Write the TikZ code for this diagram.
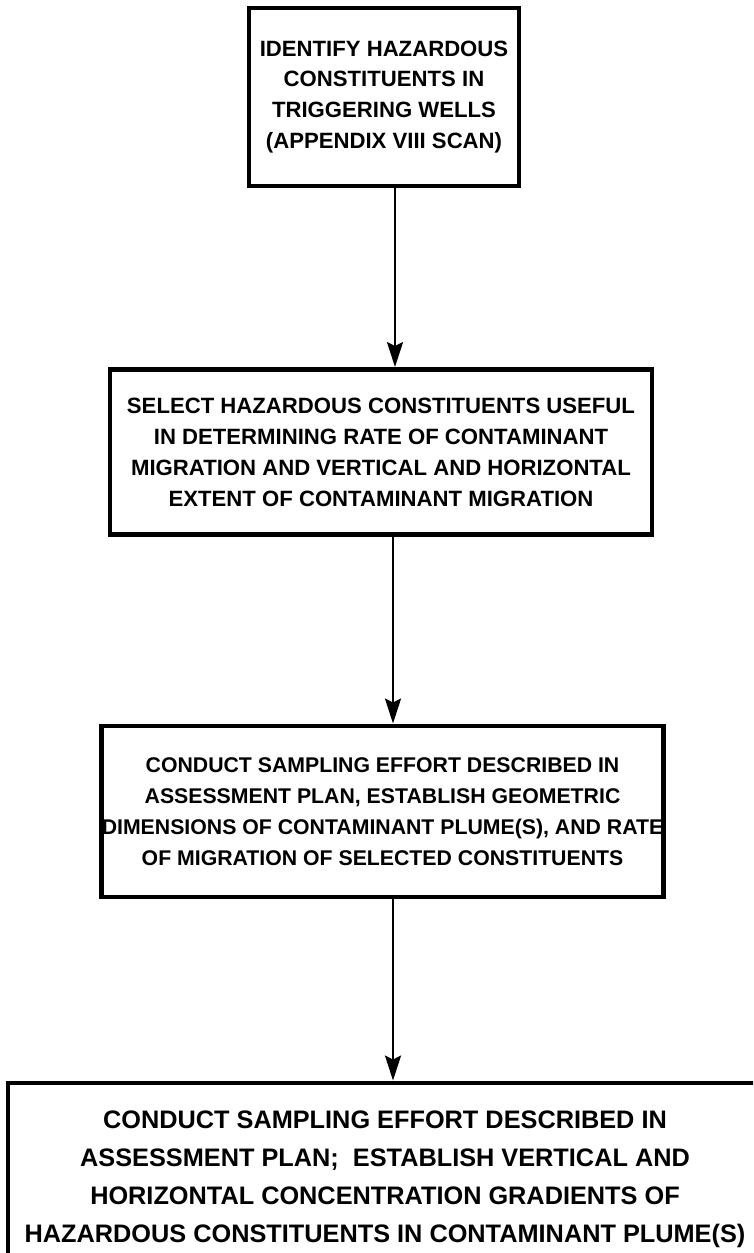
\documentclass[tikz,border=0pt]{standalone}
\usepackage{fontspec}
\setmainfont{Liberation Sans}
\usetikzlibrary{arrows.meta}

\begin{document}
\begin{tikzpicture}[
        stepbox/.style = {draw, line width=1.4pt, align=center, inner sep=0pt,
                          font=\fontsize{6.3}{8.8}\selectfont\bfseries},
        flow/.style    = {line width=0.7pt, -{Stealth[length=2.5mm, width=1.6mm, inset=0.4mm]}}
    ]
        \useasboundingbox (0,0) rectangle (7.53,-12.53);
        \clip (0,0) rectangle (7.53,-12.53);

        % the four steps
        \node [stepbox, minimum width=2.70cm, minimum height=1.78cm] (ident) at (3.84,-0.97)
            {IDENTIFY HAZARDOUS\\CONSTITUENTS IN\\TRIGGERING WELLS\\(APPENDIX VIII SCAN)};
        \node [stepbox, minimum width=5.42cm, minimum height=1.65cm] (select) at (3.81,-4.52)
            {SELECT HAZARDOUS CONSTITUENTS USEFUL\\IN DETERMINING RATE OF CONTAMINANT\\
             MIGRATION AND VERTICAL AND HORIZONTAL\\EXTENT OF CONTAMINANT MIGRATION};
        \node [stepbox, minimum width=5.45cm, minimum height=1.71cm,
               font=\fontsize{6.05}{8.8}\selectfont\bfseries] (plume) at (3.825,-8.115)
            {CONDUCT SAMPLING EFFORT DESCRIBED IN\\ASSESSMENT PLAN, ESTABLISH GEOMETRIC\\
             DIMENSIONS OF CONTAMINANT PLUME(S), AND RATE\\OF MIGRATION OF SELECTED CONSTITUENTS};
        \node [stepbox, minimum width=7.54cm, minimum height=1.92cm,
               font=\fontsize{7.2}{10.8}\selectfont\bfseries] (gradient) at (3.85,-11.79)
            {CONDUCT SAMPLING EFFORT DESCRIBED IN\\ASSESSMENT PLAN;\ \ ESTABLISH VERTICAL AND\\
             HORIZONTAL CONCENTRATION GRADIENTS OF\\HAZARDOUS CONSTITUENTS IN CONTAMINANT PLUME(S)};

        % arrows between them
        \coordinate (a1) at (3.95,0);
        \coordinate (a2) at (3.93,0);
        \draw [flow] (ident.south -| a1) -- (select.north -| a1);
        \draw [flow] (select.south -| a2) -- (plume.north -| a2);
        \draw [flow] (plume.south -| a2) -- (gradient.north -| a2);
    \end{tikzpicture}
\end{document}
